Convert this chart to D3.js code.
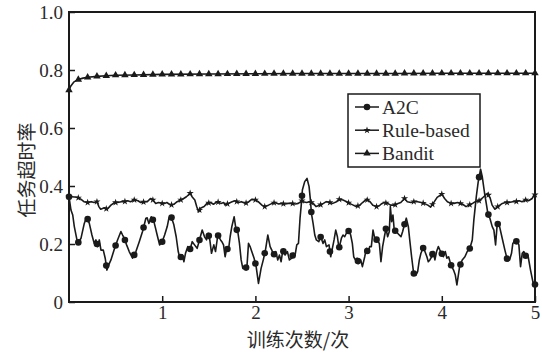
<!DOCTYPE html>
<html>
<head>
<meta charset="utf-8">
<script src="https://cdn.jsdelivr.net/npm/d3@7"></script>
<style>
  body { margin: 0; background: #fff; }
  svg { display: block; }
</style>
</head>
<body>
<svg id="chart" width="542" height="353"></svg>
<script>
// Axis ticks and labels
const xTicks = [1, 2, 3, 4, 5];
const yTicks = [0, 0.2, 0.4, 0.6, 0.8, 1.0];
const xLabel = "训练次数/次";
const yLabel = "任务超时率";
const seriesNames = ["A2C", "Rule-based", "Bandit"];

// Task timeout rate per training run: [run, rate]
const a2c = [
  [0,0.363],[0.021,0.317],[0.04,0.3],[0.057,0.26],[0.093,0.202],[0.129,0.22],[0.164,0.271],[0.19,0.294],
  [0.218,0.271],[0.246,0.231],[0.271,0.202],[0.289,0.214],[0.307,0.191],[0.325,0.214],[0.343,0.179],[0.368,0.179],
  [0.389,0.15],[0.407,0.11],[0.425,0.127],[0.45,0.145],[0.486,0.182],[0.521,0.214],[0.557,0.243],[0.575,0.231],
  [0.593,0.22],[0.618,0.197],[0.646,0.174],[0.682,0.151],[0.718,0.174],[0.754,0.208],[0.789,0.243],[0.825,0.289],
  [0.839,0.29],[0.857,0.271],[0.882,0.294],[0.911,0.277],[0.929,0.254],[0.946,0.231],[0.972,0.197],[1.0,0.208],
  [1.026,0.231],[1.054,0.26],[1.072,0.289],[1.097,0.294],[1.125,0.266],[1.15,0.225],[1.172,0.174],[1.19,0.151],
  [1.215,0.162],[1.233,0.139],[1.25,0.168],[1.275,0.191],[1.297,0.179],[1.322,0.208],[1.347,0.197],[1.375,0.185],
  [1.4,0.214],[1.429,0.248],[1.454,0.225],[1.476,0.214],[1.493,0.237],[1.511,0.214],[1.529,0.168],[1.554,0.197],
  [1.572,0.174],[1.597,0.231],[1.626,0.214],[1.64,0.208],[1.658,0.197],[1.675,0.156],[1.693,0.185],[1.711,0.179],
  [1.729,0.225],[1.747,0.26],[1.772,0.294],[1.79,0.254],[1.811,0.243],[1.829,0.202],[1.847,0.145],[1.865,0.116],
  [1.89,0.122],[1.908,0.116],[1.926,0.202],[1.943,0.191],[1.961,0.174],[1.986,0.151],[2.008,0.122],[2.033,0.064],
  [2.061,0.116],[2.086,0.147],[2.111,0.185],[2.133,0.231],[2.158,0.191],[2.176,0.179],[2.194,0.162],[2.219,0.174],
  [2.24,0.145],[2.258,0.162],[2.276,0.139],[2.294,0.179],[2.318,0.162],[2.343,0.174],[2.365,0.145],[2.39,0.151],
  [2.408,0.168],[2.426,0.162],[2.444,0.197],[2.462,0.202],[2.479,0.289],[2.497,0.352],[2.504,0.386],[2.529,0.415],
  [2.554,0.426],[2.576,0.398],[2.59,0.352],[2.601,0.306],[2.619,0.271],[2.637,0.231],[2.654,0.214],[2.68,0.208],
  [2.701,0.225],[2.726,0.202],[2.744,0.214],[2.762,0.191],[2.79,0.197],[2.808,0.156],[2.826,0.185],[2.844,0.214],
  [2.862,0.248],[2.88,0.225],[2.897,0.185],[2.923,0.22],[2.94,0.231],[2.958,0.225],[2.976,0.237],[3.004,0.246],
  [3.022,0.231],[3.04,0.202],[3.055,0.156],[3.073,0.145],[3.09,0.151],[3.108,0.133],[3.13,0.145],[3.148,0.122],
  [3.173,0.156],[3.191,0.185],[3.208,0.168],[3.226,0.191],[3.244,0.191],[3.262,0.248],[3.28,0.22],[3.304,0.214],
  [3.33,0.202],[3.347,0.139],[3.365,0.191],[3.384,0.225],[3.401,0.254],[3.419,0.225],[3.437,0.243],[3.448,0.329],
  [3.462,0.277],[3.476,0.3],[3.491,0.243],[3.508,0.248],[3.526,0.237],[3.544,0.231],[3.562,0.225],[3.58,0.243],
  [3.598,0.266],[3.619,0.289],[3.641,0.26],[3.658,0.208],[3.676,0.156],[3.698,0.099],[3.722,0.093],[3.741,0.105],
  [3.759,0.145],[3.776,0.168],[3.802,0.188],[3.819,0.174],[3.84,0.156],[3.855,0.139],[3.872,0.145],[3.891,0.156],
  [3.909,0.174],[3.926,0.145],[3.944,0.174],[3.963,0.191],[3.98,0.179],[3.998,0.168],[4.016,0.156],[4.037,0.174],
  [4.055,0.151],[4.073,0.156],[4.098,0.128],[4.126,0.11],[4.145,0.093],[4.162,0.059],[4.191,0.122],[4.219,0.145],
  [4.248,0.156],[4.273,0.174],[4.298,0.182],[4.327,0.214],[4.344,0.283],[4.37,0.363],[4.391,0.415],[4.416,0.458],
  [4.434,0.432],[4.459,0.375],[4.48,0.334],[4.494,0.306],[4.516,0.289],[4.541,0.26],[4.559,0.248],[4.577,0.197],
  [4.595,0.271],[4.62,0.26],[4.648,0.22],[4.677,0.179],[4.702,0.147],[4.727,0.145],[4.748,0.168],[4.762,0.202],
  [4.784,0.211],[4.809,0.208],[4.827,0.197],[4.845,0.122],[4.863,0.168],[4.88,0.174],[4.905,0.156],[4.927,0.156],
  [4.952,0.11],[4.977,0.07],[5.0,0.06]
];

const ruleBased = [
  [0,0.363],[0.03,0.363],[0.06,0.362],[0.09,0.361],[0.13,0.354],[0.16,0.346],[0.2,0.343],[0.24,0.346],
  [0.27,0.343],[0.3,0.346],[0.32,0.329],[0.34,0.32],[0.38,0.325],[0.41,0.32],[0.45,0.334],[0.49,0.343],
  [0.52,0.343],[0.56,0.346],[0.59,0.346],[0.63,0.349],[0.66,0.346],[0.7,0.352],[0.74,0.349],[0.77,0.343],
  [0.8,0.345],[0.84,0.346],[0.875,0.357],[0.9,0.352],[0.93,0.34],[0.96,0.343],[1.0,0.34],[1.03,0.34],
  [1.05,0.343],[1.09,0.334],[1.125,0.337],[1.16,0.346],[1.2,0.352],[1.23,0.357],[1.26,0.363],[1.3,0.375],
  [1.32,0.363],[1.35,0.352],[1.37,0.329],[1.39,0.311],[1.41,0.323],[1.45,0.329],[1.48,0.34],[1.52,0.343],
  [1.55,0.337],[1.59,0.346],[1.63,0.34],[1.66,0.343],[1.675,0.334],[1.71,0.34],[1.75,0.346],[1.78,0.349],
  [1.82,0.343],[1.85,0.346],[1.89,0.34],[1.93,0.346],[1.96,0.354],[2.0,0.352],[2.03,0.346],[2.07,0.334],
  [2.1,0.329],[2.14,0.334],[2.18,0.34],[2.21,0.343],[2.25,0.338],[2.28,0.34],[2.32,0.338],[2.35,0.34],
  [2.39,0.34],[2.43,0.338],[2.46,0.34],[2.5,0.349],[2.51,0.346],[2.55,0.343],[2.58,0.346],[2.62,0.34],
  [2.65,0.329],[2.69,0.334],[2.73,0.34],[2.76,0.346],[2.8,0.343],[2.83,0.34],[2.87,0.346],[2.9,0.354],
  [2.94,0.352],[2.98,0.346],[3.01,0.34],[3.05,0.334],[3.08,0.329],[3.12,0.334],[3.15,0.343],[3.19,0.354],
  [3.23,0.346],[3.26,0.334],[3.3,0.329],[3.33,0.332],[3.35,0.338],[3.38,0.343],[3.42,0.34],[3.45,0.334],
  [3.49,0.334],[3.53,0.34],[3.56,0.343],[3.6,0.357],[3.63,0.346],[3.67,0.343],[3.7,0.346],[3.74,0.346],
  [3.78,0.343],[3.81,0.34],[3.85,0.334],[3.88,0.327],[3.92,0.346],[3.95,0.361],[4.0,0.372],[4.03,0.357],
  [4.06,0.346],[4.1,0.34],[4.13,0.34],[4.17,0.343],[4.22,0.338],[4.26,0.329],[4.29,0.334],[4.33,0.34],
  [4.36,0.346],[4.4,0.349],[4.43,0.357],[4.47,0.369],[4.49,0.375],[4.52,0.357],[4.54,0.334],[4.57,0.32],
  [4.6,0.329],[4.65,0.34],[4.68,0.343],[4.72,0.343],[4.76,0.346],[4.79,0.346],[4.83,0.349],[4.86,0.346],
  [4.9,0.352],[4.93,0.349],[4.97,0.357],[4.99,0.369],[5.0,0.37]
];

const bandit = [
  [0,0.731],[0.02,0.745],[0.05,0.758],[0.09,0.766],[0.15,0.772],[0.2,0.775],[0.3,0.778],[0.4,0.78],
  [0.5,0.782],[0.7,0.783],[1.0,0.785],[1.5,0.786],[2.0,0.787],[2.5,0.788],[3.0,0.788],[3.5,0.788],
  [4.0,0.789],[4.5,0.789],[5.0,0.789]
];

// Markers sit on each curve at every 0.1 training runs
const markerStep = 0.1;

const ink = "#1a1a1a";
const serif = "'Liberation Serif', 'Times New Roman', serif";
const cjk = "'Noto Sans CJK SC', sans-serif";

const svg = d3.select("#chart");
const x = d3.scaleLinear().domain([0, 5]).range([69, 535]);
const y = d3.scaleLinear().domain([0, 1]).range([302, 12]);

// Axes with inward ticks
const yAxis = svg.append("g")
  .attr("transform", `translate(${x(0)},0)`)
  .call(d3.axisLeft(y).tickValues(yTicks).tickSize(-6).tickPadding(6)
    .tickFormat(d => d === 0 ? "0" : d.toFixed(1)));
const xAxis = svg.append("g")
  .attr("transform", `translate(0,${y(0)})`)
  .call(d3.axisBottom(x).tickValues(xTicks).tickSize(-6).tickPadding(4)
    .tickFormat(d3.format("d")));
[xAxis, yAxis].forEach(g => {
  g.select(".domain").remove();
  g.selectAll(".tick line").attr("stroke", ink).attr("stroke-width", 1.5);
  g.selectAll(".tick text").attr("fill", "#2a2a2a")
    .style("font-family", serif).style("font-size", "19px");
});

// Curves
const line = d3.line().x(d => x(d[0])).y(d => y(d[1]));
const series = [
  { name: seriesNames[0], data: a2c, symbol: d3.symbolCircle, size: 34 },
  { name: seriesNames[1], data: ruleBased, symbol: d3.symbolStar, size: 16 },
  { name: seriesNames[2], data: bandit, symbol: d3.symbolTriangle, size: 24 }
];

const marks = d3.range(0, 5 + 1e-9, markerStep).map(v => +v.toFixed(2));

series.forEach(s => {
  svg.append("path").datum(s.data)
    .attr("fill", "none").attr("stroke", ink).attr("stroke-width", 1.6)
    .attr("stroke-linejoin", "round").attr("d", line);
  // piecewise-linear lookup along the curve
  const along = d3.scaleLinear().domain(s.data.map(d => d[0])).range(s.data.map(d => d[1]));
  svg.append("g").selectAll("path").data(marks).join("path")
    .attr("transform", v => `translate(${x(v)},${y(along(v))})`)
    .attr("d", d3.symbol().type(s.symbol).size(s.size))
    .attr("fill", ink);
});

// Plot frame
svg.append("rect")
  .attr("x", x(0)).attr("y", y(1))
  .attr("width", x(5) - x(0)).attr("height", y(0) - y(1))
  .attr("fill", "none").attr("stroke", ink).attr("stroke-width", 2);

// Legend
const lg = svg.append("g");
lg.append("rect").attr("x", 348).attr("y", 94).attr("width", 132).attr("height", 73)
  .attr("fill", "#fff").attr("stroke", ink).attr("stroke-width", 1.5);
series.forEach((s, i) => {
  const cy = 107 + i * 23.2;
  lg.append("line").attr("x1", 355).attr("x2", 379).attr("y1", cy).attr("y2", cy)
    .attr("stroke", ink).attr("stroke-width", 1.5);
  lg.append("path").attr("transform", `translate(367,${cy})`)
    .attr("d", d3.symbol().type(s.symbol).size(s.size)).attr("fill", ink);
  lg.append("text").attr("x", 382).attr("y", cy).attr("dy", "0.35em")
    .attr("fill", "#2a2a2a").style("font-family", serif).style("font-size", "19.5px")
    .text(s.name);
});

// Axis titles
svg.append("text").attr("x", 298).attr("y", 338).attr("text-anchor", "middle")
  .attr("dominant-baseline", "central").attr("fill", "#2a2a2a")
  .style("font-family", cjk).style("font-size", "19px").text(xLabel);
svg.append("text").attr("transform", "translate(25,170) rotate(-90)")
  .attr("text-anchor", "middle").attr("dominant-baseline", "central").attr("fill", "#2a2a2a")
  .style("font-family", cjk).style("font-size", "19px").text(yLabel);
</script>
</body>
</html>
